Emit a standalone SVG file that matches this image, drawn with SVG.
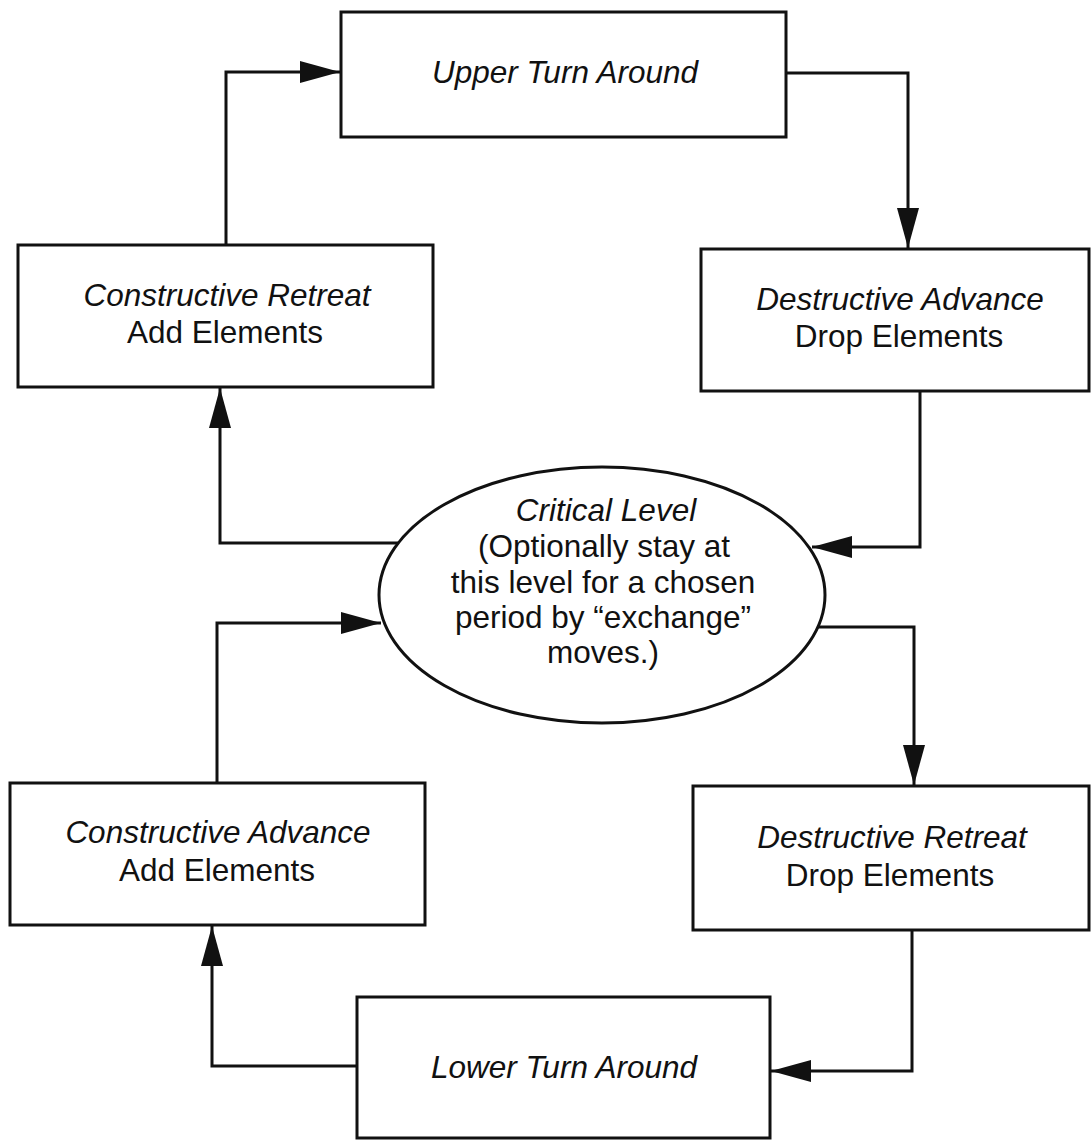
<svg xmlns="http://www.w3.org/2000/svg" width="1091" height="1140" viewBox="0 0 1091 1140">
  <style>
    .box { fill: #fff; stroke: #111; stroke-width: 3; }
    .link { fill: none; stroke: #111; stroke-width: 3; }
    text { font-family: "Liberation Sans", Arial, sans-serif; font-size: 31.5px; fill: #111; text-anchor: middle; }
    .title { font-style: italic; }
  </style>
  <defs>
    <marker id="arrow" markerUnits="userSpaceOnUse" markerWidth="42" markerHeight="24" refX="40" refY="12" orient="auto">
      <path d="M0,1 L40,12 L0,23 Z" fill="#111"/>
    </marker>
  </defs>

  <rect width="1091" height="1140" fill="#fff"/>

  <!-- connectors -->
  <g id="connectors">
    <path class="link" d="M226,245 V72 H340" marker-end="url(#arrow)"/>
    <path class="link" d="M786,73 H908 V248" marker-end="url(#arrow)"/>
    <path class="link" d="M920,391 V547 H812" marker-end="url(#arrow)"/>
    <path class="link" d="M398,543 H220 V388" marker-end="url(#arrow)"/>
    <path class="link" d="M217,783 V623 H381" marker-end="url(#arrow)"/>
    <path class="link" d="M818,627 H914 V785" marker-end="url(#arrow)"/>
    <path class="link" d="M912,930 V1071 H771" marker-end="url(#arrow)"/>
    <path class="link" d="M357,1066 H212 V926" marker-end="url(#arrow)"/>
  </g>

  <!-- nodes -->
  <g id="upper-turn-around">
    <rect class="box" x="341" y="12" width="445" height="125"/>
    <text class="title" x="565" y="83">Upper Turn Around</text>
  </g>

  <g id="constructive-retreat">
    <rect class="box" x="18" y="245" width="415" height="142"/>
    <text class="title" x="227" y="306">Constructive Retreat</text>
    <text x="225" y="343">Add Elements</text>
  </g>

  <g id="destructive-advance">
    <rect class="box" x="701" y="249" width="388" height="142"/>
    <text class="title" x="900" y="310">Destructive Advance</text>
    <text x="899" y="347">Drop Elements</text>
  </g>

  <g id="critical-level">
    <ellipse class="box" cx="602" cy="595" rx="223" ry="128"/>
    <text class="title" x="606" y="521">Critical Level</text>
    <text x="604" y="557">(Optionally stay at</text>
    <text x="603" y="593">this level for a chosen</text>
    <text x="603" y="628">period by “exchange”</text>
    <text x="603" y="663">moves.)</text>
  </g>

  <g id="constructive-advance">
    <rect class="box" x="10" y="783" width="415" height="142"/>
    <text class="title" x="218" y="843">Constructive Advance</text>
    <text x="217" y="881">Add Elements</text>
  </g>

  <g id="destructive-retreat">
    <rect class="box" x="693" y="786" width="396" height="144"/>
    <text class="title" x="892" y="848">Destructive Retreat</text>
    <text x="890" y="886">Drop Elements</text>
  </g>

  <g id="lower-turn-around">
    <rect class="box" x="357" y="997" width="413" height="141"/>
    <text class="title" x="564" y="1078">Lower Turn Around</text>
  </g>
</svg>
